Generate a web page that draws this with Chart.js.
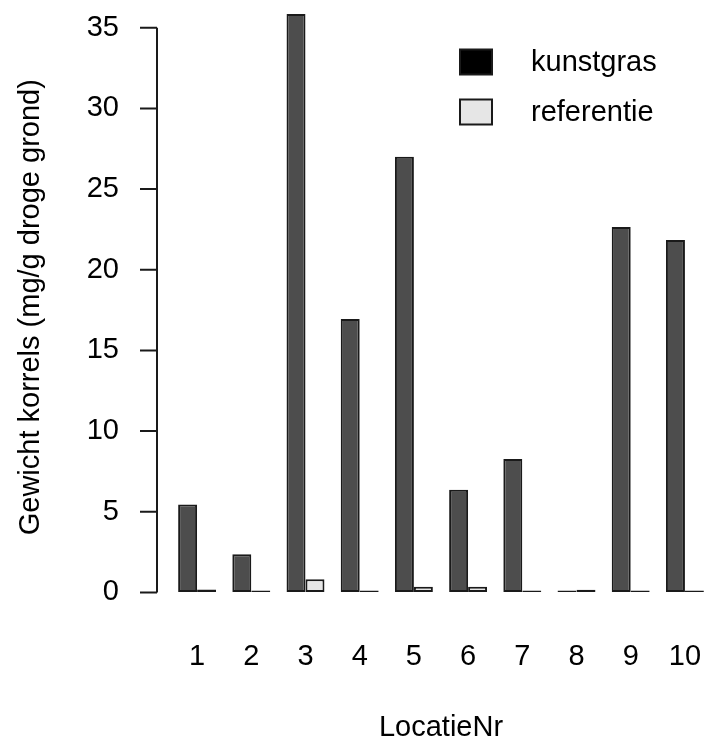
<!DOCTYPE html>
<html>
<head>
<meta charset="utf-8">
<script src="https://cdn.jsdelivr.net/npm/chart.js@4"></script>
<style>
  html, body { margin: 0; padding: 0; background: #fff; overflow: hidden; }
  canvas { display: block; }
</style>
</head>
<body>
<canvas id="barChart" width="720" height="745"></canvas>
<script>
const locaties = ["1", "2", "3", "4", "5", "6", "7", "8", "9", "10"];
const kunstgras = [5.45, 2.37, 35.85, 16.95, 27.0, 6.36, 8.27, 0, 22.65, 21.84];
const referentie = [0.18, 0, 0.82, 0, 0.35, 0.35, 0, 0.17, 0, 0];
const yTicks = [0, 5, 10, 15, 20, 25, 30, 35];

const seriesNames = ["kunstgras", "referentie"];
const barColors = ["#4d4d4d", "#e6e6e6"];
const legendColors = ["#000000", "#e6e6e6"];
const yTitle = "Gewicht korrels (mg/g droge grond)";

const FONT = "'Liberation Sans', Arial, sans-serif";
const NONE = "rgba(0,0,0,0)";

// R style y axis: line only between first and last tick, set off from the bars
const rAxis = {
  id: "rAxis",
  afterDraw(chart) {
    const ctx = chart.ctx;
    const y = chart.scales.y;
    const x0 = chart.chartArea.left - 13;
    ctx.save();
    ctx.strokeStyle = "#1a1a1a";
    ctx.lineWidth = 2;
    ctx.beginPath();
    ctx.moveTo(x0, y.getPixelForValue(yTicks[0]));
    ctx.lineTo(x0, y.getPixelForValue(yTicks[yTicks.length - 1]));
    yTicks.forEach(v => {
      const py = y.getPixelForValue(v);
      ctx.moveTo(x0 - 17, py);
      ctx.lineTo(x0, py);
    });
    ctx.stroke();

    // y title, centred on the plot region the way R does it (a bit below the scale centre)
    const cy = (y.getPixelForValue(0) + y.getPixelForValue(36.6)) / 2 + 10;
    ctx.translate(31, cy);
    ctx.rotate(-Math.PI / 2);
    ctx.font = "29px " + FONT;
    ctx.fillStyle = "#000";
    ctx.textAlign = "center";
    ctx.textBaseline = "middle";
    ctx.fillText(yTitle, 0, 0);
    ctx.restore();
  }
};

// legend box in the top right, like legend() in R
const rLegend = {
  id: "rLegend",
  afterDraw(chart) {
    const ctx = chart.ctx;
    ctx.save();
    ctx.font = "29px " + FONT;
    ctx.textBaseline = "middle";
    ctx.textAlign = "left";
    chart.data.datasets.forEach((ds, i) => {
      const cy = 62 + i * 50;
      ctx.fillStyle = legendColors[i];
      ctx.fillRect(460, cy - 12.5, 32, 25);
      ctx.strokeStyle = "#1a1a1a";
      ctx.lineWidth = 2;
      ctx.strokeRect(460, cy - 12.5, 32, 25);
      ctx.fillStyle = "#000";
      ctx.fillText(ds.label, 531, cy + 1);
    });
    ctx.restore();
  }
};

const datasets = [kunstgras, referentie].map((vals, i) => ({
  label: seriesNames[i],
  data: vals,
  backgroundColor: barColors[i],
  borderColor: "#1a1a1a",
  borderWidth: 2,
  borderSkipped: false,
  minBarLength: 2,
  categoryPercentage: 0.7,
  barPercentage: 1.0,
  clip: false
}));

new Chart(document.getElementById("barChart"), {
  type: "bar",
  data: { labels: locaties, datasets: datasets },
  options: {
    responsive: false,
    animation: false,
    devicePixelRatio: 1,
    layout: { padding: { top: 2, right: 8, left: 0, bottom: 0 } },
    plugins: {
      legend: { display: false },
      tooltip: { enabled: false }
    },
    scales: {
      x: {
        grid: { display: true, drawOnChartArea: false, drawTicks: true, tickLength: 47, color: NONE },
        border: { display: false },
        afterFit(scale) {
          scale.paddingLeft = 0;
          scale.paddingRight = 0;
        },
        ticks: {
          color: "#000",
          padding: 0,
          maxRotation: 0,
          autoSkip: false,
          font: { family: FONT, size: 29 }
        },
        title: {
          display: true,
          text: "LocatieNr",
          color: "#000",
          font: { family: FONT, size: 29 },
          padding: { top: 36, bottom: 0 }
        }
      },
      y: {
        min: 0,
        max: 36.6,
        grid: { display: true, drawOnChartArea: false, drawTicks: true, tickLength: 51, color: NONE },
        border: { display: false },
        afterBuildTicks(scale) {
          scale.ticks = yTicks.map(v => ({ value: v }));
        },
        afterFit(scale) {
          scale.width = 170;
          scale.paddingTop = 0;
          scale.paddingBottom = 0;
        },
        ticks: {
          color: "#000",
          padding: 0,
          font: { family: FONT, size: 29 }
        }
      }
    }
  },
  plugins: [rAxis, rLegend]
});
</script>
</body>
</html>
